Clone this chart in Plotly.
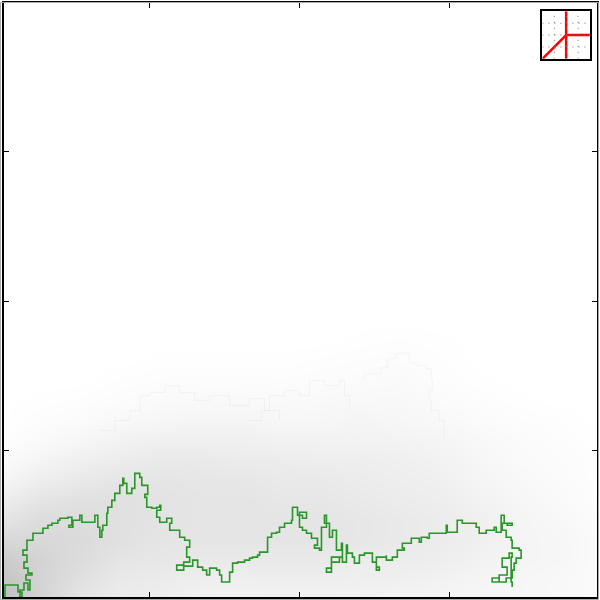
import plotly.graph_objects as go

# ---- main walk (traced, pixel-like coordinates; y measured from bottom) ----
walk_px = [5,5,18,18,22,20,24,28,30,26,32,28,24,27,23,27,27,32,33,37,42,43,48,52,58,60,68,72,69,73,80,80,82,93,95,98,100,102,103,107,108,112,115,120,123,124,127,132,135,140,142,148,148,145,147,152,157,160,161,157,160,167,172,170,178,180,185,190,187,190,184,177,184,193,198,203,207,210,213,217,220,222,230,230,233,238,245,250,253,258,260,267,268,268,272,277,280,285,287,292,293,297,298,302,303,307,300,303,307,312,318,315,320,322,327,325,330,333,337,337,342,343,332,327,332,340,343,347,347,348,353,355,360,365,373,373,377,380,377,387,387,393,398,398,405,403,410,412,420,422,428,430,437,447,447,448,458,458,463,463,472,477,480,487,495,497,502,502,505,508,513,503,507,512,513,520,522,517,515,513,507,500,493,500,508,503,510,513,512,513]
walk_py = [597,585,585,592,597,590,583,590,580,575,573,568,562,555,550,545,540,540,533,533,533,528,525,523,520,518,517,525,527,520,518,515,522,522,515,527,537,530,525,513,507,500,493,485,478,483,493,488,473,477,485,487,494,497,507,508,507,505,510,517,522,518,523,530,530,537,540,547,557,562,565,570,566,560,567,570,575,568,568,570,575,582,582,572,563,562,560,558,557,555,552,552,543,537,533,532,527,523,523,520,507,507,515,515,518,512,527,530,533,538,545,548,550,527,515,523,537,530,540,550,543,557,568,572,562,557,562,557,545,553,557,563,555,553,553,562,570,567,557,555,560,557,555,550,548,543,543,538,542,537,538,533,533,532,525,532,532,520,520,523,523,527,533,530,527,532,527,515,523,525,523,530,537,540,548,550,558,563,570,578,582,578,582,575,567,558,553,557,582,587]
walk_y = [600 - v for v in walk_py]

# ---- faint background walks (traced) ----
faint1_x = [365, 365, 377, 382, 388, 397, 405, 410, 417, 427, 432, 433, 430, 432, 440, 445]
faint1_py = [378, 373, 373, 367, 358, 353, 352, 362, 365, 368, 378, 390, 400, 410, 420, 440]
faint2_x = [100, 115, 130, 140, 150, 165, 180, 195, 210, 230, 250, 265, 280]
faint2_py = [430, 420, 410, 395, 392, 385, 392, 400, 395, 405, 398, 410, 420]
faint3_x = [250, 262, 270, 285, 300, 310, 325, 340, 345, 350]
faint3_py = [420, 410, 395, 390, 395, 380, 385, 380, 395, 410]

# ---- density of the background cloud (grey level 0..1), read by eye ----
heat_x = [0, 40, 80, 120, 160, 200, 240, 280, 320, 360, 400, 440, 480, 520, 560, 600]
heat_y = [3, 20, 40, 60, 80, 100, 120, 140, 160, 180, 200, 220, 240, 260, 280]
heat_z = [
    [0.75, 0.50, 0.30, 0.22, 0.20, 0.15, 0.15, 0.15, 0.15, 0.15, 0.12, 0.12, 0.10, 0.10, 0.08, 0.05],
    [0.70, 0.50, 0.35, 0.25, 0.22, 0.20, 0.18, 0.20, 0.20, 0.18, 0.18, 0.15, 0.12, 0.10, 0.08, 0.05],
    [0.60, 0.50, 0.40, 0.30, 0.28, 0.25, 0.25, 0.25, 0.25, 0.22, 0.22, 0.20, 0.15, 0.12, 0.10, 0.05],
    [0.45, 0.45, 0.42, 0.35, 0.30, 0.30, 0.30, 0.30, 0.30, 0.28, 0.25, 0.22, 0.18, 0.12, 0.10, 0.05],
    [0.30, 0.40, 0.40, 0.35, 0.32, 0.30, 0.30, 0.30, 0.30, 0.28, 0.25, 0.22, 0.18, 0.12, 0.08, 0.04],
    [0.20, 0.30, 0.35, 0.35, 0.32, 0.30, 0.30, 0.28, 0.28, 0.25, 0.22, 0.20, 0.15, 0.10, 0.06, 0.03],
    [0.10, 0.20, 0.25, 0.30, 0.30, 0.28, 0.28, 0.25, 0.25, 0.22, 0.20, 0.18, 0.12, 0.08, 0.05, 0.02],
    [0.05, 0.12, 0.18, 0.22, 0.25, 0.25, 0.22, 0.22, 0.20, 0.20, 0.18, 0.15, 0.10, 0.06, 0.04, 0.02],
    [0.02, 0.06, 0.10, 0.15, 0.18, 0.18, 0.18, 0.15, 0.15, 0.15, 0.14, 0.12, 0.08, 0.05, 0.03, 0.01],
    [0.00, 0.03, 0.05, 0.08, 0.10, 0.12, 0.12, 0.10, 0.10, 0.12, 0.10, 0.08, 0.05, 0.03, 0.02, 0.00],
    [0.00, 0.01, 0.02, 0.04, 0.06, 0.07, 0.07, 0.06, 0.07, 0.08, 0.08, 0.05, 0.03, 0.01, 0.00, 0.00],
    [0.00, 0.00, 0.00, 0.02, 0.03, 0.04, 0.04, 0.03, 0.04, 0.05, 0.06, 0.03, 0.01, 0.00, 0.00, 0.00],
    [0.00, 0.00, 0.00, 0.00, 0.01, 0.01, 0.01, 0.01, 0.02, 0.03, 0.04, 0.02, 0.00, 0.00, 0.00, 0.00],
    [0.00, 0.00, 0.00, 0.00, 0.00, 0.00, 0.00, 0.00, 0.00, 0.01, 0.02, 0.01, 0.00, 0.00, 0.00, 0.00],
    [0.00] * 16,
]

tick_vals = [150, 300, 450]

# ---- inset glyph (lattice units 0..4) ----
inset_grid = [1, 2, 3]
inset_x = [0, 2, None, 2, 2, None, 2, 4]
inset_y = [0, 2, None, 0, 4, None, 2, 2]

fig = go.Figure()

fig.add_trace(go.Heatmap(
    x=heat_x, y=heat_y, z=heat_z, zmin=0, zmax=1, zsmooth="best",
    colorscale=[[0, "rgb(255,255,255)"], [1, "rgb(168,168,168)"]],
    showscale=False, hoverinfo="skip"))

for fx, fpy in [(faint1_x, faint1_py), (faint2_x, faint2_py), (faint3_x, faint3_py)]:
    fig.add_trace(go.Scatter(x=fx, y=[600 - v for v in fpy], mode="lines",
                             line=dict(color="rgba(0,0,0,0.035)", width=1, shape="hv"),
                             hoverinfo="skip", showlegend=False))

fig.add_trace(go.Scatter(x=walk_px, y=walk_y, mode="lines",
                         line=dict(color="rgb(40,150,40)", width=1.6, shape="hv"),
                         showlegend=False))

# inset
for g in inset_grid:
    fig.add_shape(type="line", xref="x2", yref="y2", x0=g, x1=g, y0=0, y1=4,
                  line=dict(color="rgb(110,110,110)", width=1, dash="1px,5px"))
    fig.add_shape(type="line", xref="x2", yref="y2", x0=0, x1=4, y0=g, y1=g,
                  line=dict(color="rgb(110,110,110)", width=1, dash="1px,5px"))
fig.add_trace(go.Scatter(x=inset_x, y=inset_y, xaxis="x2", yaxis="y2", mode="lines",
                         line=dict(color="red", width=2.5), showlegend=False))

axis_common = dict(showline=True, linecolor="black", linewidth=1.5, mirror="ticks",
                   ticks="inside", ticklen=5, tickcolor="black", tickvals=tick_vals,
                   showticklabels=False, showgrid=False, zeroline=False)

fig.update_layout(
    width=600, height=600,
    margin=dict(l=4, r=2, t=1, b=3, pad=0),
    plot_bgcolor="white", paper_bgcolor="white",
    xaxis=dict(range=[4, 598], **axis_common),
    yaxis=dict(range=[3, 599], **axis_common),
    xaxis2=dict(domain=[0.908, 0.988], range=[0, 4], anchor="y2", showline=True,
                linecolor="black", linewidth=2, mirror=True, showgrid=False,
                zeroline=False, showticklabels=False, ticks=""),
    yaxis2=dict(domain=[0.906, 0.986], range=[0, 4], anchor="x2", showline=True,
                linecolor="black", linewidth=2, mirror=True, showgrid=False,
                zeroline=False, showticklabels=False, ticks=""),
)

fig.add_shape(type="rect", xref="paper", yref="paper",
              x0=(0.5 - 4) / 594, x1=(599.5 - 4) / 594,
              y0=(597 - 599.5) / 596, y1=(597 - 0.5) / 596,
              line=dict(color="rgb(170,170,170)", width=1), layer="above")

fig.write_html("out.html")
